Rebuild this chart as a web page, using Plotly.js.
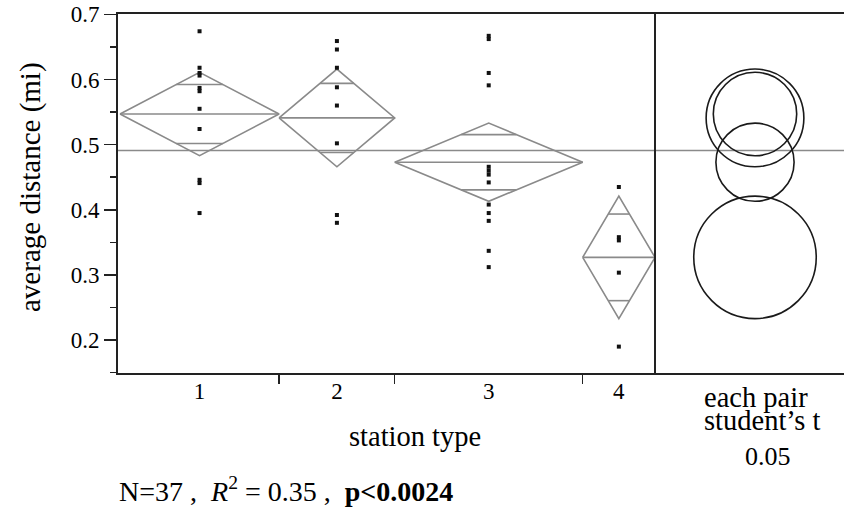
<!DOCTYPE html>
<html>
<head>
<meta charset="utf-8">
<script src="https://cdn.plot.ly/plotly-3.0.1.min.js"></script>
<style>html,body{margin:0;padding:0;background:#fff;}</style>
</head>
<body>
<div id="chart" style="width:844px;height:523px;"></div>
<script>
// ---- data ----
const categories = ['1', '2', '3', '4'];
const counts = [11, 8, 13, 5];
const groupMeans = [0.547, 0.541, 0.473, 0.327];
const ciHalfWidth = [0.064, 0.075, 0.060, 0.094];
const grandMean = 0.491;
const points1 = [0.674, 0.618, 0.610, 0.606, 0.587, 0.582, 0.555, 0.524, 0.446, 0.441, 0.395];
const points2 = [0.659, 0.646, 0.618, 0.588, 0.560, 0.502, 0.392, 0.380];
const points3 = [0.667, 0.662, 0.610, 0.591, 0.466, 0.460, 0.454, 0.442, 0.408, 0.395, 0.383, 0.337, 0.312];
const points4 = [0.435, 0.358, 0.353, 0.3035, 0.190];
const yTickVals = [0.2, 0.3, 0.4, 0.5, 0.6, 0.7];
const yTitle = 'average distance (mi)';
const xTitle = 'station type';
const compareLabel1 = 'each pair';
const compareLabel2 = 'student\u2019s t';
const alphaLabel = '0.05';
const statsLabel = 'N=37 ,  <i>R</i><sup>2</sup> = 0.35 ,  <b>p&lt;0.0024</b>';

// ---- geometry helpers ----
const W = 844, H = 523, ML = 118, MR = 0, MT = 14, MB = 150;
const PW = W - ML - MR, PH = H - MT - MB;
const splitPx = 655;
const splitFrac = (splitPx - ML) / PW;
const yRange = [0.1495, 0.7005];
const pxPerUnit = PH / (yRange[1] - yRange[0]);
const circleCenterPx = 755;
const x2Range = [-(circleCenterPx - splitPx) / pxPerUnit, (W - MR - circleCenterPx) / pxPerUnit];
const px2paperX = px => (px - ML) / PW;
const px2paperY = py => 1 - (py - MT) / PH;

const allPoints = [points1, points2, points3, points4];
const starts = [], ends = [], centers = [];
let cum = 0;
counts.forEach(n => { starts.push(cum); cum += n; ends.push(cum); centers.push((starts[starts.length-1] + cum) / 2); });
const boundaries = ends.slice(0, -1);

const traces = [];
// diamonds
const dx = [], dy = [];
categories.forEach((c, i) => {
  const x0 = starts[i], x1 = ends[i], xc = centers[i], m = groupMeans[i], h = ciHalfWidth[i];
  dx.push(x0, xc, x1, xc, x0, null, x0, x1, null);
  dy.push(m, m + h, m, m - h, m, null, m, m, null);
  const d = h / Math.SQRT2;
  const hw = (x1 - x0) / 2 * (1 - 1 / Math.SQRT2);
  dx.push(xc - hw, xc + hw, null, xc - hw, xc + hw, null);
  dy.push(m + d, m + d, null, m - d, m - d, null);
});
traces.push({x: dx, y: dy, xaxis: 'x', yaxis: 'y', mode: 'lines', line: {color: '#8a8a8a', width: 1.6}, hoverinfo: 'skip'});
// points
allPoints.forEach((pts, i) => {
  traces.push({x: pts.map(() => centers[i]), y: pts, xaxis: 'x', yaxis: 'y', mode: 'markers',
    marker: {symbol: 'square', size: 4, color: '#111', line: {width: 0}}});
});
// dummy trace for category label axis
traces.push({x: centers, y: groupMeans, xaxis: 'x3', yaxis: 'y', mode: 'markers', marker: {opacity: 0}, hoverinfo: 'skip'});
// dummy trace for comparison circle axis
traces.push({x: [0], y: [grandMean], xaxis: 'x2', yaxis: 'y', mode: 'markers', marker: {opacity: 0}, hoverinfo: 'skip'});

const shapes = [];
shapes.push({type: 'line', xref: 'paper', yref: 'y', x0: 0, x1: 1, y0: grandMean, y1: grandMean, line: {color: '#8a8a8a', width: 1.6}, layer: 'below'});
categories.forEach((c, i) => {
  const r = ciHalfWidth[i], m = groupMeans[i];
  shapes.push({type: 'circle', xref: 'x2', yref: 'y', x0: -r, x1: r, y0: m - r, y1: m + r, line: {color: '#1a1a1a', width: 1.6}});
});
shapes.push({type: 'line', xref: 'paper', yref: 'paper', x0: splitFrac, x1: splitFrac, y0: 0, y1: 1, line: {color: '#222', width: 2}});

const serif = '"Liberation Serif", "Times New Roman", Times, serif';
const annotations = [
  {text: yTitle, textangle: -90, xref: 'paper', yref: 'paper', x: px2paperX(30), y: px2paperY(187), xanchor: 'center', yanchor: 'middle', showarrow: false, font: {size: 29}},
  {text: xTitle, xref: 'paper', yref: 'paper', x: px2paperX(415), y: px2paperY(436), xanchor: 'center', yanchor: 'middle', showarrow: false, font: {size: 28.5}},
  {text: compareLabel1, xref: 'paper', yref: 'paper', x: px2paperX(702), y: px2paperY(397), xanchor: 'left', yanchor: 'middle', showarrow: false, font: {size: 28.5}},
  {text: compareLabel2, xref: 'paper', yref: 'paper', x: px2paperX(702), y: px2paperY(420), xanchor: 'left', yanchor: 'middle', showarrow: false, font: {size: 28.5}},
  {text: alphaLabel, xref: 'paper', yref: 'paper', x: px2paperX(768), y: px2paperY(456), xanchor: 'center', yanchor: 'middle', showarrow: false, font: {size: 26}},
  {text: statsLabel, xref: 'paper', yref: 'paper', x: px2paperX(117), y: px2paperY(489), xanchor: 'left', yanchor: 'middle', showarrow: false, font: {size: 28}}
];

const layout = {
  width: W, height: H,
  margin: {l: ML, r: MR, t: MT, b: MB, pad: 0},
  paper_bgcolor: '#fff', plot_bgcolor: '#fff',
  showlegend: false,
  font: {family: serif, color: '#000', size: 23},
  xaxis: {domain: [0, splitFrac], range: [-0.14, cum], anchor: 'y',
    tickmode: 'array', tickvals: boundaries, showticklabels: false,
    ticks: 'outside', ticklen: 9, tickwidth: 1.5, tickcolor: '#222',
    showgrid: false, zeroline: false, showline: true, linecolor: '#222', linewidth: 2, mirror: true},
  xaxis3: {overlaying: 'x', range: [-0.14, cum], anchor: 'y', tickmode: 'array', tickvals: centers, ticktext: categories,
    ticks: '', showgrid: false, zeroline: false, showline: false, tickfont: {family: serif, size: 23}, ticklabelstandoff: 2},
  xaxis2: {domain: [splitFrac, 1], range: x2Range, anchor: 'y', showticklabels: false, ticks: '',
    showgrid: false, zeroline: false, showline: true, linecolor: '#222', linewidth: 2, mirror: true},
  yaxis: {range: yRange, tickmode: 'array', tickvals: yTickVals, tickformat: '.1f',
    ticks: 'outside', ticklen: 12, tickwidth: 1.5, tickcolor: '#222',
    minor: {tickmode: 'linear', tick0: 0.15, dtick: 0.1, ticks: 'outside', ticklen: 6, tickwidth: 1.5, tickcolor: '#222', showgrid: false},
    showgrid: false, zeroline: false, showline: true, linecolor: '#222', linewidth: 2, tickfont: {family: serif, size: 23}},
  shapes: shapes,
  annotations: annotations
};

Plotly.newPlot('chart', traces, layout, {staticPlot: true, displayModeBar: false});
</script>
</body>
</html>
